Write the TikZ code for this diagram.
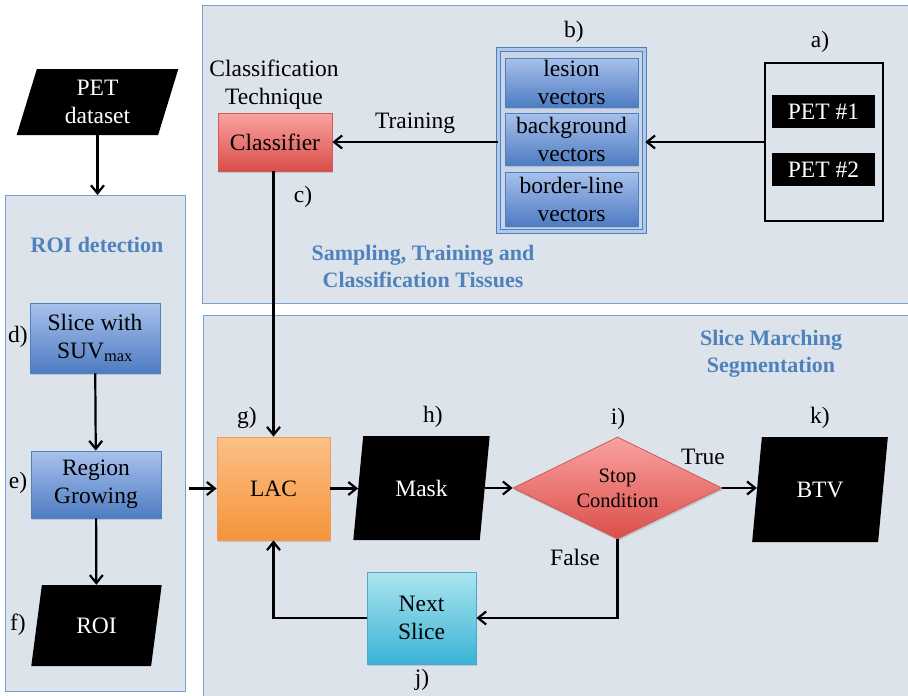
\documentclass[tikz,border=0pt]{standalone}
\usepackage{fontspec}
\setmainfont{Liberation Serif}
\usetikzlibrary{arrows.meta}
\usetikzlibrary{shapes.geometric}
\usetikzlibrary{shadows}
\usepackage{xcolor}

\definecolor{panelfill}{RGB}{221,227,234}
\definecolor{panelline}{RGB}{120,160,215}
\definecolor{titleblue}{RGB}{79,129,189}
\definecolor{bluetop}{RGB}{168,193,236}
\definecolor{bluebot}{RGB}{78,124,194}
\definecolor{blueline}{RGB}{79,129,189}
\definecolor{redtop}{RGB}{250,162,160}
\definecolor{redbot}{RGB}{218,78,72}
\definecolor{redline}{RGB}{205,90,85}
\definecolor{orgtop}{RGB}{252,192,134}
\definecolor{orgbot}{RGB}{244,148,58}
\definecolor{orgline}{RGB}{240,155,80}
\definecolor{cyantop}{RGB}{172,229,239}
\definecolor{cyanbot}{RGB}{58,178,214}
\definecolor{cyanline}{RGB}{80,165,205}
\definecolor{framefill}{RGB}{200,213,232}
\definecolor{framelight}{RGB}{178,200,234}

\newcommand{\bigtxt}{\fontsize{23.5}{28}\selectfont}
\newcommand{\midtxt}{\fontsize{20.5}{25}\selectfont}
\newcommand{\ttltxt}{\fontsize{22}{27}\selectfont\bfseries\color{titleblue}}

\tikzset{
  panel/.style={draw=panelline, line width=1.2pt, fill=panelfill, inner sep=0pt, anchor=north west},
  shd/.style={drop shadow={shadow xshift=1pt, shadow yshift=-2pt, opacity=.3}},
  bluebox/.style={shd, draw=blueline, line width=.8pt, top color=bluetop, bottom color=bluebot, inner sep=0pt, align=center, font=\bigtxt},
  para/.style={trapezium, trapezium left angle=76, trapezium right angle=104, trapezium stretches=true, fill=black, text=white, inner sep=0pt, align=center, font=\bigtxt},
  lbl/.style={font=\bigtxt, align=center},
  ttlbl/.style={font=\ttltxt, align=center},
  flow/.style={-{Straight Barb[length=8pt,width=13pt,line width=2.2pt]}, line width=2.2pt}
}

\begin{document}
\begin{tikzpicture}[x=1pt, y=-1pt]
\useasboundingbox (0,0) rectangle (908,696);
\clip (0,0) rectangle (908,696);
\fill[white] (0,0) rectangle (908,696);

% panels
\node[panel, minimum width=712pt, minimum height=298pt] (toppanel) at (202,5) {};
\node[panel, minimum width=712pt, minimum height=390pt] (botpanel) at (203,315) {};
\node[panel, minimum width=180pt, minimum height=496pt] (roipanel) at (5,195) {};

\node[ttlbl] (roititle) at (97,245) {ROI detection};
\node[ttlbl] (toptitle) at (423,266) {Sampling, Training and\\Classification Tissues};
\node[ttlbl] (bottitle) at (771,354) {Slice Marching\\Segmentation};

% ROI detection
\node[para, minimum width=163pt, minimum height=66pt] (petds) at (97.5,102) {PET\\dataset};
\node[bluebox, minimum width=130pt, minimum height=70pt] (slice) at (95,338) {Slice with\\SUV\textsubscript{max}};
\node[bluebox, minimum width=130pt, minimum height=67pt] (grow) at (96,484.5) {Region\\Growing};
\node[para, minimum width=131pt, minimum height=81pt] (roi) at (96.5,625.5) {ROI};
\node[lbl] (ld) at (18,337) {d)};
\node[lbl] (le) at (18,483) {e)};
\node[lbl] (lf) at (18,625) {f)};

% sampling and training
\node[shd, draw=redline, line width=.8pt, top color=redtop, bottom color=redbot, minimum width=114pt, minimum height=58pt, font=\bigtxt] (clf) at (275,142) {Classifier};
\node[lbl] (clftitle) at (274,85) {Classification\\Technique};
\node[lbl] (lc) at (303,197) {c)};
\node[shd, draw=blueline, line width=1.6pt, double=framelight, double distance=2.2pt, fill=framefill, minimum width=146pt, minimum height=182pt] (vecs) at (571.5,140.5) {};
\node[bluebox, minimum width=133pt, minimum height=49pt] (lesion) at (571.5,82.5) {lesion\\vectors};
\node[bluebox, minimum width=133pt, minimum height=52pt] (backgr) at (571.5,139) {background\\vectors};
\node[bluebox, minimum width=133pt, minimum height=54pt] (border) at (571.5,199) {border-line\\vectors};
\node[lbl] (lb) at (574,32) {b)};
\node[draw=black, line width=1.8pt, minimum width=118pt, minimum height=158pt] (petbox) at (824,142) {};
\node[fill=black, text=white, minimum width=103pt, minimum height=33pt, inner sep=0pt, font=\bigtxt] (pet1) at (823.5,111.5) {PET \#1};
\node[fill=black, text=white, minimum width=103pt, minimum height=33pt, inner sep=0pt, font=\bigtxt] (pet2) at (823.5,169.5) {PET \#2};
\node[lbl] (la) at (820,42) {a)};

% slice marching
\node[shd, draw=orgline, line width=.8pt, top color=orgtop, bottom color=orgbot, minimum width=113pt, minimum height=103pt, font=\bigtxt] (lac) at (273.5,488.5) {LAC};
\node[lbl] (lg) at (247,418) {g)};
\node[para, trapezium left angle=75, trapezium right angle=105, minimum width=137pt, minimum height=104pt] (mask) at (421.5,488) {Mask};
\node[lbl] (lh) at (433,417) {h)};
\node[diamond, aspect=2.05, shd, draw=redline, line width=.8pt, top color=redtop, bottom color=redbot, minimum width=209pt, minimum height=102pt, inner sep=0pt, align=center, font=\midtxt] (stop) at (617.5,488) {Stop\\Condition};
\node[lbl] (li) at (618,419) {i)};
\node[para, minimum width=136pt, minimum height=105pt] (btv) at (820,489.5) {BTV};
\node[lbl] (lk) at (820,418) {k)};
\node[shd, draw=cyanline, line width=.8pt, top color=cyantop, bottom color=cyanbot, minimum width=109pt, minimum height=92pt, align=center, font=\bigtxt] (next) at (421.5,618) {Next\\Slice};
\node[lbl] (lj) at (422,680) {j)};
\node[lbl] (ltrue) at (703,457) {True};
\node[lbl] (lfalse) at (575,557) {False};

% connectors
\draw[flow] (petds.south) -- (petds.south |- roipanel.north);
\draw[flow] (slice) -- (grow);
\draw[flow] (grow) -- (roi);
\draw[flow] ([xshift=3pt]roipanel.east |- lac.west) -- (lac.west);
\draw[flow] (petbox.west) -- (petbox.west -| vecs.east);
\draw[flow] (vecs.west |- clf.east) -- node[lbl, above=4pt] (ltrain) {Training} (clf.east);
\draw[flow] (clf.south -| lac.north) -- (lac.north);
\draw[flow] (lac.east) -- (mask.west |- lac.east);
\draw[flow] (mask.east |- stop.west) -- (stop.west);
\draw[flow] (stop.east) -- (btv.west |- stop.east);
\draw[flow] (stop.south) |- (next.east);
\draw[flow] (next.west) -| (lac.south);
\end{tikzpicture}
\end{document}
